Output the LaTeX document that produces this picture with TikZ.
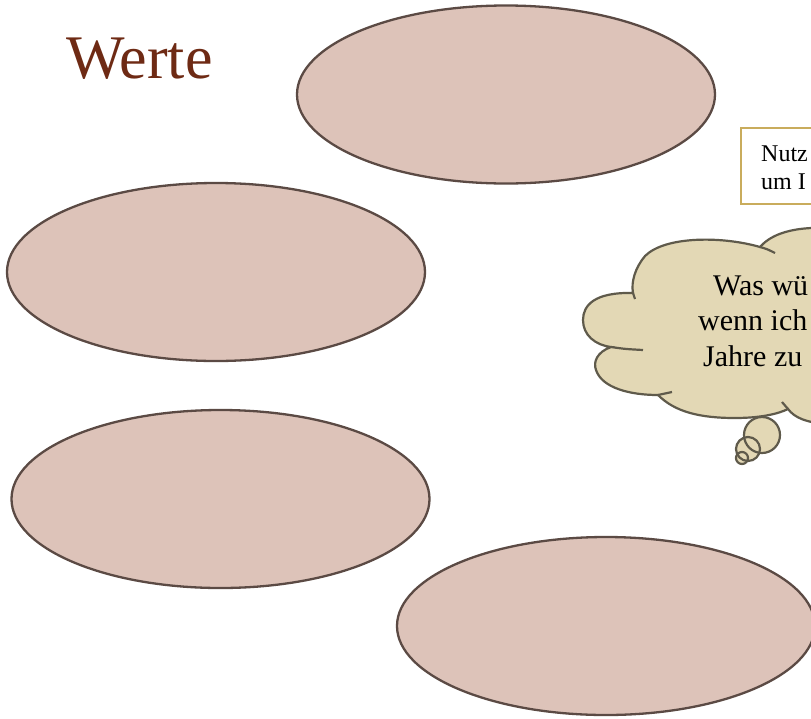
\documentclass[tikz,border=0pt]{standalone}
\usepackage{fontspec}
\setmainfont{Liberation Serif}
\usetikzlibrary{shapes.geometric}

\definecolor{wertfill}{HTML}{DDC3B9}
\definecolor{wertline}{HTML}{5B4A44}
\definecolor{titlebrown}{HTML}{6E2A14}
\definecolor{cloudfill}{HTML}{E3D8B5}
\definecolor{cloudline}{HTML}{5F5A4B}
\definecolor{boxgold}{HTML}{C9AC5C}

\tikzset{
  wert/.style={ellipse, draw=wertline, fill=wertfill, line width=2.3pt,
    minimum width=418pt, minimum height=178pt, inner sep=0pt},
  cloudtext/.style={anchor=base west, inner sep=0pt, font=\fontsize{30}{36}\selectfont},
  hinttext/.style={anchor=base west, inner sep=0pt, font=\fontsize{24}{28}\selectfont},
  cloudedge/.style={draw=cloudline, line width=2.2pt}
}

\begin{document}
\begin{tikzpicture}[x=1pt,y=-1pt]
\useasboundingbox (0,0) rectangle (811,718);
\clip (0,0) rectangle (811,718);
\fill[white] (0,0) rectangle (811,718);

% title
\node[anchor=base west, inner sep=0pt, text=titlebrown, font=\fontsize{62}{68}\selectfont] (titel) at (66,78) {Werte};

% the four ellipses
\node[wert] (wert1) at (506,94.5) {};
\node[wert] (wert2) at (216,272) {};
\node[wert] (wert3) at (220.5,499) {};
\node[wert] (wert4) at (606,626) {};

% hint box
\draw[boxgold, line width=2.3pt, fill=white] (741,128) rectangle (830,204);
\node[hinttext] (hint1) at (761,161.5) {Nutz};
\node[hinttext] (hint2) at (761,189) {um I};

% thought cloud
\filldraw[fill=cloudfill, cloudedge] (830,228)
  .. controls (785,226) and (768,238) .. (760,247)
  .. controls (722,236) and (665,236) .. (645,256)
  .. controls (635,268) and (631,282) .. (633,293)
  .. controls (595,292) and (583,305) .. (583,320)
  .. controls (583,335) and (595,345) .. (611,347)
  .. controls (597,352) and (593,362) .. (596,370)
  .. controls (602,388) and (630,395) .. (658,395)
  .. controls (675,412) and (700,418) .. (735,418)
  .. controls (760,418) and (778,414) .. (788,409)
  .. controls (795,418) and (805,422) .. (830,425)
  -- cycle;
% inner stubs
\draw[cloudedge] (760,247) .. controls (767,249) .. (775,253);
\draw[cloudedge] (633,293) .. controls (634,296) .. (635,299);
\draw[cloudedge] (611,347) .. controls (625,349) .. (643,350);
\draw[cloudedge] (658,395) .. controls (665,394) .. (672,392);
\draw[cloudedge] (788,409) .. controls (785,406) .. (782,402);

% bubbles
\foreach \bx/\by/\br in {762/435/18, 748/449/12, 742/458/6}
  \fill[cloudfill] (\bx,\by) circle [radius=\br];
\foreach \bx/\by/\br in {762/435/18, 748/449/12, 742/458/6}
  \draw[cloudedge] (\bx,\by) circle [radius=\br];

\node[cloudtext] (frage1) at (713,295.5) {Was wü};
\node[cloudtext] (frage2) at (698,330.7) {wenn ich};
\node[cloudtext] (frage3) at (703,366) {Jahre zu};
\end{tikzpicture}
\end{document}
